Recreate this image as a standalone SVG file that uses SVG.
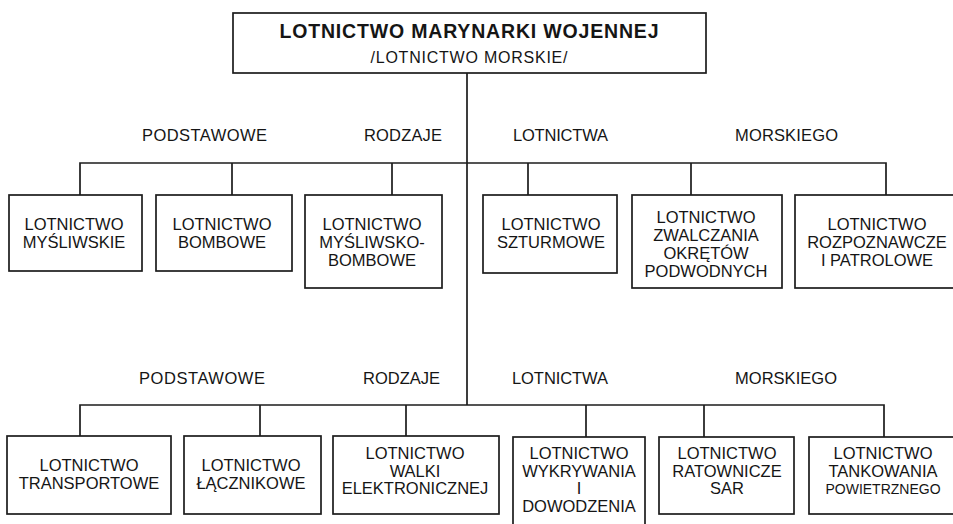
<svg xmlns="http://www.w3.org/2000/svg" width="953" height="524" viewBox="0 0 953 524">
  <style>
    .box { fill: #ffffff; stroke: #1c1c1c; stroke-width: 1.7; }
    .wire { fill: none; stroke: #1c1c1c; stroke-width: 1.7; }
    text { font-family: "Liberation Sans", Arial, sans-serif; fill: #151515; }
    .t { font-size: 16.5px; text-anchor: middle; }
    .small { font-size: 14px; }
    .lbl { font-size: 16.5px; text-anchor: start; }
    .title { font-size: 19.5px; font-weight: bold; text-anchor: middle; }
    .sub { font-size: 16px; text-anchor: middle; }
  </style>
  <rect x="0" y="0" width="953" height="524" fill="#ffffff"/>

  <!-- connectors -->
  <g id="connectors">
    <path class="wire" d="M467 73 V405"/>
    <path class="wire" d="M80 195 V163 H886 V195 M232 163 V195 M392 163 V195 M528 163 V195 M691 163 V195"/>
    <path class="wire" d="M80 436 V405 H884 V437 M260 405 V436 M406 405 V436 M586 405 V437 M704 405 V437"/>
  </g>

  <!-- row captions -->
  <g id="captions">
    <text class="lbl" x="142" y="141" textLength="125" lengthAdjust="spacing">PODSTAWOWE</text>
    <text class="lbl" x="364" y="141" textLength="78" lengthAdjust="spacing">RODZAJE</text>
    <text class="lbl" x="513" y="141" textLength="95" lengthAdjust="spacing">LOTNICTWA</text>
    <text class="lbl" x="735" y="141" textLength="103" lengthAdjust="spacing">MORSKIEGO</text>
    <text class="lbl" x="139" y="384" textLength="126" lengthAdjust="spacing">PODSTAWOWE</text>
    <text class="lbl" x="363" y="384" textLength="77" lengthAdjust="spacing">RODZAJE</text>
    <text class="lbl" x="512" y="384" textLength="96" lengthAdjust="spacing">LOTNICTWA</text>
    <text class="lbl" x="735" y="384" textLength="102" lengthAdjust="spacing">MORSKIEGO</text>
  </g>

  <g id="root">
    <rect class="box" x="233" y="13" width="473" height="60"/>
    <text class="title" x="469" y="38" textLength="379" lengthAdjust="spacing">LOTNICTWO MARYNARKI WOJENNEJ</text>
    <text class="sub" x="469" y="63" textLength="197" lengthAdjust="spacing">/LOTNICTWO MORSKIE/</text>
  </g>

  <!-- first row -->
  <g id="mysliwskie">
    <rect class="box" x="9" y="195" width="133" height="76"/>
    <text class="t" x="74" y="230">LOTNICTWO</text>
    <text class="t" x="74" y="248">MYŚLIWSKIE</text>
  </g>
  <g id="bombowe">
    <rect class="box" x="156" y="195" width="136" height="76"/>
    <text class="t" x="222" y="230">LOTNICTWO</text>
    <text class="t" x="222" y="248">BOMBOWE</text>
  </g>
  <g id="mysliwsko-bombowe">
    <rect class="box" x="305" y="195" width="137" height="93"/>
    <text class="t" x="372" y="230">LOTNICTWO</text>
    <text class="t" x="372" y="248">MYŚLIWSKO-</text>
    <text class="t" x="372" y="266">BOMBOWE</text>
  </g>
  <g id="szturmowe">
    <rect class="box" x="483" y="195" width="134" height="78"/>
    <text class="t" x="551" y="230">LOTNICTWO</text>
    <text class="t" x="551" y="248">SZTURMOWE</text>
  </g>
  <g id="zop">
    <rect class="box" x="632" y="195" width="150" height="93"/>
    <text class="t" x="706" y="223">LOTNICTWO</text>
    <text class="t" x="706" y="241">ZWALCZANIA</text>
    <text class="t" x="706" y="259">OKRĘTÓW</text>
    <text class="t" x="706" y="277">PODWODNYCH</text>
  </g>
  <g id="rozpoznawcze">
    <rect class="box" x="795" y="195" width="164" height="93"/>
    <text class="t" x="877" y="230">LOTNICTWO</text>
    <text class="t" x="877" y="248">ROZPOZNAWCZE</text>
    <text class="t" x="877" y="266">I PATROLOWE</text>
  </g>

  <!-- second row -->
  <g id="transportowe">
    <rect class="box" x="7" y="436" width="164" height="78"/>
    <text class="t" x="89" y="471">LOTNICTWO</text>
    <text class="t" x="89" y="489">TRANSPORTOWE</text>
  </g>
  <g id="lacznikowe">
    <rect class="box" x="184" y="436" width="137" height="78"/>
    <text class="t" x="251" y="471">LOTNICTWO</text>
    <text class="t" x="251" y="489">ŁĄCZNIKOWE</text>
  </g>
  <g id="walki-elektronicznej">
    <rect class="box" x="333" y="436" width="166" height="78"/>
    <text class="t" x="415" y="459">LOTNICTWO</text>
    <text class="t" x="415" y="477">WALKI</text>
    <text class="t" x="415" y="494">ELEKTRONICZNEJ</text>
  </g>
  <g id="wykrywania">
    <rect class="box" x="513" y="437" width="132" height="100"/>
    <text class="t" x="579" y="459">LOTNICTWO</text>
    <text class="t" x="579" y="477">WYKRYWANIA</text>
    <text class="t" x="579" y="494">I</text>
    <text class="t" x="579" y="512">DOWODZENIA</text>
  </g>
  <g id="ratownicze">
    <rect class="box" x="659" y="437" width="135" height="77"/>
    <text class="t" x="727" y="459">LOTNICTWO</text>
    <text class="t" x="727" y="477">RATOWNICZE</text>
    <text class="t" x="727" y="494">SAR</text>
  </g>
  <g id="tankowania">
    <rect class="box" x="809" y="437" width="150" height="77"/>
    <text class="t" x="883" y="459">LOTNICTWO</text>
    <text class="t" x="883" y="477">TANKOWANIA</text>
    <text class="t small" x="883" y="494">POWIETRZNEGO</text>
  </g>
</svg>
